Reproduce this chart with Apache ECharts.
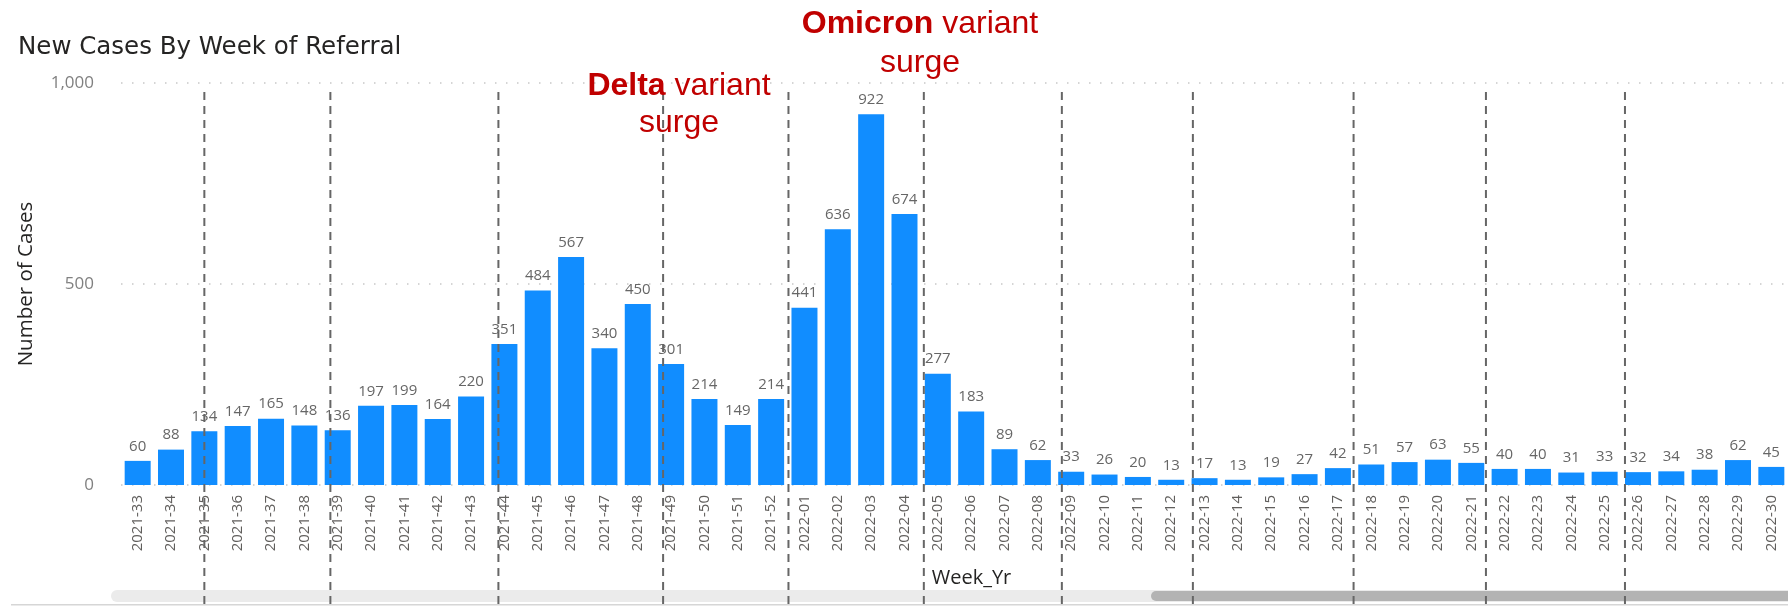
<!DOCTYPE html>
<html><head><meta charset="utf-8">
<script src="https://cdn.jsdelivr.net/npm/echarts@6/dist/echarts.min.js"></script>
<style>html,body{margin:0;padding:0;background:#fff}#c{width:1788px;height:606px}</style>
</head><body><div id="c"></div>
<script>
const weeks = [
  '2021-33','2021-34','2021-35','2021-36','2021-37','2021-38','2021-39','2021-40','2021-41','2021-42',
  '2021-43','2021-44','2021-45','2021-46','2021-47','2021-48','2021-49','2021-50','2021-51','2021-52',
  '2022-01','2022-02','2022-03','2022-04','2022-05','2022-06','2022-07','2022-08','2022-09','2022-10',
  '2022-11','2022-12','2022-13','2022-14','2022-15','2022-16','2022-17','2022-18','2022-19','2022-20',
  '2022-21','2022-22','2022-23','2022-24','2022-25','2022-26','2022-27','2022-28','2022-29','2022-30'
];
const cases = [
  60, 88, 134, 147, 165, 148, 136, 197, 199, 164,
  220, 351, 484, 567, 340, 450, 301, 214, 149, 214,
  441, 636, 922, 674, 277, 183, 89, 62, 33, 26,
  20, 13, 17, 13, 19, 27, 42, 51, 57, 63,
  55, 40, 40, 31, 33, 32, 34, 38, 62, 45
];
const yMin = 0, yMax = 1000, yStep = 500;
// dashed separator positions, in category units (bar i spans [i, i+1])
const separators = [2.5, 6.28, 11.32, 16.26, 20.02, 24.08, 28.22, 32.15, 36.97, 40.94, 45.11];
const titleText = 'New Cases By Week of Referral';
const yName = 'Number of Cases';
const xName = 'Week_Yr';
const notes = [
  { bold: 'Delta', rest: ' variant', line2: 'surge' },
  { bold: 'Omicron', rest: ' variant', line2: 'surge' }
];

const chart = echarts.init(document.getElementById('c'));
const FONT = 'Open Sans';
const noteStyle = (n, x, y, lh) => ({
  type: 'text', x: x, y: y, z: 20,
  style: {
    text: '{b|' + n.bold + '}{n|' + n.rest + '}\n{n|' + n.line2 + '}',
    align: 'center', verticalAlign: 'top',
    rich: {
      b: { fontFamily: 'Liberation Sans', fontWeight: 'bold', fontSize: 32, fill: '#C00000', lineHeight: lh, align: 'center' },
      n: { fontFamily: 'Liberation Sans', fontSize: 32, fill: '#C00000', lineHeight: lh, align: 'center' }
    }
  }
});

chart.setOption({
  animation: false,
  backgroundColor: '#fff',
  title: {
    text: titleText, left: 13, top: 30,
    textStyle: { fontFamily: 'DejaVu Sans', fontWeight: 'normal', fontSize: 24.5, color: '#252423' }
  },
  grid: { left: 121, top: 83, width: 1670, bottom: 121, containLabel: false },
  xAxis: [{
    type: 'category', data: weeks,
    axisLine: { show: false }, axisTick: { show: false },
    axisLabel: { rotate: 90, interval: 0, margin: 10, fontFamily: FONT, fontSize: 15, color: '#605E5C' },
    name: xName, nameLocation: 'middle', nameGap: 83,
    nameTextStyle: { fontFamily: FONT, fontSize: 20, color: '#252423', padding: [0, 0, 0, 34] }
  }, {
    type: 'value', min: 0, max: weeks.length, show: false
  }],
  yAxis: {
    type: 'value', min: yMin, max: yMax, interval: yStep,
    axisLine: { show: false }, axisTick: { show: false },
    axisLabel: { margin: 27, fontFamily: FONT, fontSize: 17, color: '#808080' },
    splitLine: { lineStyle: { color: '#C8C8C8', width: 1.5, type: [1.5, 9.5] } },
    name: yName, nameLocation: 'middle', nameGap: 84,
    nameTextStyle: { fontFamily: FONT, fontSize: 20.5, color: '#252423' }
  },
  series: [{
    type: 'bar', data: cases, barWidth: 26,
    itemStyle: { color: '#118DFF' },
    label: { show: true, position: 'top', distance: 7, fontFamily: FONT, fontSize: 15, color: '#666666' }
  }, {
    type: 'custom', xAxisIndex: 1, yAxisIndex: 0, clip: false, silent: true, z: 10,
    data: separators.map(v => [v, 0]),
    renderItem: function (params, api) {
      const x = api.coord([api.value(0), 0])[0];
      const cs = params.coordSys;
      return {
        type: 'line',
        shape: { x1: x, y1: cs.y + 9, x2: x, y2: api.getHeight() },
        style: { stroke: '#666666', lineWidth: 2, lineDash: [8, 6] }
      };
    }
  }],
  graphic: [
    noteStyle(notes[0], 679, 68, 37),
    noteStyle(notes[1], 920, 5, 39),
    { type: 'rect', z: 1, shape: { x: 111, y: 590, width: 1700, height: 12, r: 6 }, style: { fill: '#EBEBEB' } },
    { type: 'rect', z: 2, shape: { x: 1151, y: 591, width: 660, height: 10, r: 5 }, style: { fill: '#B3B3B3' } },
    { type: 'rect', z: 1, shape: { x: 11, y: 604, width: 1800, height: 1.5 }, style: { fill: '#D6D6D6' } }
  ]
});
</script></body></html>
